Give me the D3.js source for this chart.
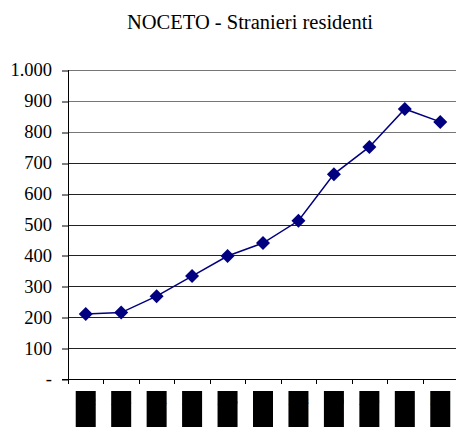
<!DOCTYPE html>
<html>
<head>
<meta charset="utf-8">
<script src="https://cdn.jsdelivr.net/npm/d3@7"></script>
<style>
  body { margin: 0; background: #fff; }
</style>
</head>
<body>
<div id="chart"></div>
<script>
// data (year labels are hidden behind black boxes)
var years = ["2002", "2003", "2004", "2005", "2006", "2007", "2008", "2009", "2010", "2011", "2012"];
var residents = [210, 215, 268, 333, 398, 440, 512, 663, 751, 874, 832];
var yTicks = [0, 100, 200, 300, 400, 500, 600, 700, 800, 900, 1000];
var yTickLabels = ["-", "100", "200", "300", "400", "500", "600", "700", "800", "900", "1.000"];

var FONT = "'Liberation Serif', 'Times New Roman', serif";
var W = 456, H = 427;
var margin = {top: 70, right: -2, bottom: 48, left: 68},
    width = W - margin.left - margin.right,
    height = H - margin.top - margin.bottom;

var svg = d3.select("#chart").append("svg")
    .attr("width", W)
    .attr("height", H);

svg.append("text")
    .attr("x", 250)
    .attr("y", 29)
    .attr("text-anchor", "middle")
    .style("font-family", FONT)
    .style("font-size", "20.5px")
    .text("NOCETO - Stranieri residenti");

var g = svg.append("g")
    .attr("transform", "translate(" + margin.left + "," + margin.top + ")");

var x = d3.scaleBand().domain(years).range([0, width]);
var y = d3.scaleLinear().domain([0, 1000]).range([height, 0]);

// grid lines
g.append("g")
  .selectAll("line")
  .data(yTicks.filter(d => d > 0))
  .join("line")
    .attr("x1", 0)
    .attr("x2", width)
    .attr("y1", d => Math.round(y(d)) + 0.5)
    .attr("y2", d => Math.round(y(d)) + 0.5)
    .attr("stroke", d => d >= 800 ? "#777" : "#222")
    .attr("stroke-width", 1);

// y axis
var yAxis = g.append("g")
    .call(d3.axisLeft(y).tickValues(yTicks).tickSize(6).tickPadding(10)
      .tickFormat((d, i) => yTickLabels[i]));
yAxis.select(".domain").remove();
yAxis.selectAll(".tick line").attr("stroke", "#000")
    .attr("transform", d => "translate(0," + (Math.round(y(d)) + 0.5 - y(d)) + ")");
yAxis.selectAll("text")
    .style("font-family", FONT)
    .style("font-size", "18.5px")
    .attr("fill", "#000");
g.append("line")
    .attr("x1", 0.5).attr("x2", 0.5)
    .attr("y1", 0).attr("y2", height)
    .attr("stroke", "#000");

// x axis with boundary ticks
var boundaries = years.map(d => x(d)).concat([width]);
g.append("line")
    .attr("x1", -6).attr("x2", width)
    .attr("y1", Math.round(height) + 0.5).attr("y2", Math.round(height) + 0.5)
    .attr("stroke", "#000");
g.append("g")
  .selectAll("line")
  .data(boundaries)
  .join("line")
    .attr("x1", d => Math.round(d) + 0.5)
    .attr("x2", d => Math.round(d) + 0.5)
    .attr("y1", height)
    .attr("y2", height + 5)
    .attr("stroke", "#000");

// year labels shown as black blocks
var lab = g.append("g").selectAll("g")
  .data(years)
  .join("g")
    .attr("transform", d => "translate(" + (x(d) + x.bandwidth() / 2) + "," + (height + 12) + ")");
lab.append("rect")
    .attr("x", -10).attr("y", 0)
    .attr("width", 20).attr("height", 40)
    .attr("fill", "#000");
lab.append("text")
    .attr("text-anchor", "middle")
    .attr("y", 14)
    .style("font-family", FONT)
    .style("font-size", "10px")
    .attr("fill", "#000")
    .text(d => d);

// line
var valueline = d3.line()
    .x((d, i) => x(years[i]) + x.bandwidth() / 2)
    .y(d => y(d));

g.append("path")
    .datum(residents)
    .attr("fill", "none")
    .attr("stroke", "#000080")
    .attr("stroke-width", 1.5)
    .attr("d", valueline);

// diamond markers
g.selectAll(".pt")
  .data(residents)
  .join("path")
    .attr("class", "pt")
    .attr("transform", (d, i) => "translate(" + (x(years[i]) + x.bandwidth() / 2) + "," + y(d) + ")")
    .attr("d", "M0,-7L7,0L0,7L-7,0Z")
    .attr("fill", "#000080");
</script>
</body>
</html>
